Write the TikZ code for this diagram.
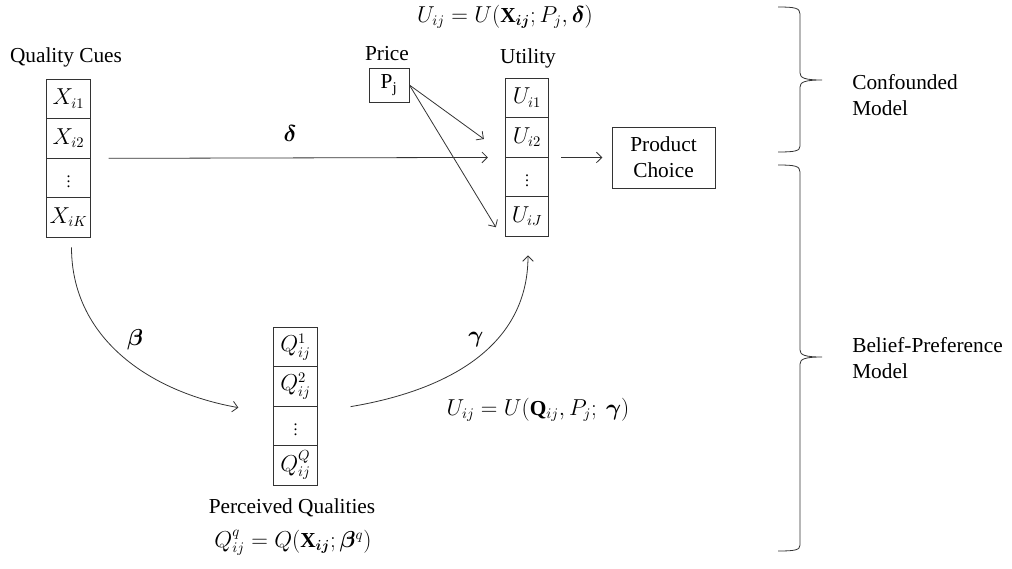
\documentclass[tikz,border=0pt]{standalone}
\usepackage{amsmath}
\usepackage{bm}
\usepackage{fontspec}
\setmainfont{Liberation Serif}
\usetikzlibrary{arrows.meta,calc}
\newcommand{\smalldots}{{\fontsize{12}{12}\selectfont$\vdots$}}
\begin{document}
\begin{tikzpicture}[x=0.75pt,y=-0.75pt,
  every node/.style={font=\fontsize{16}{19.5}\selectfont, text=black},
  ln/.style={line width=0.6pt, draw=black!80},
  cell/.style={ln, draw, minimum width=32.6pt, minimum height=29.6pt, inner sep=0pt},
  arr/.style={ln, -{Straight Barb[length=4pt,width=8pt]}},
  lbl/.style={inner sep=0pt}]
\useasboundingbox (0,0) rectangle (1012,568);

% Quality cues column
\node[lbl] (qc) at (66,57) {Quality Cues};
\node[cell] (x1) at (68.5,98.75) {$X_{i1}$};
\node[cell] (x2) at (68.5,138.25) {$X_{i2}$};
\node[cell] (x3) at (68.5,177.75) {\smalldots};
\node[cell] (x4) at (68.5,217.25) {$X_{iK}$};

% Price
\node[lbl] (pl) at (387,54) {Price};
\node[ln, draw, minimum width=30pt, minimum height=25.5pt, inner sep=0pt] (pj) at (389,85) {P\textsubscript{j}};

% Utility column
\node[lbl] (ul) at (528,58) {Utility};
\node[cell] (u1) at (527,97.75) {$U_{i1}$};
\node[cell] (u2) at (527,137.25) {$U_{i2}$};
\node[cell] (u3) at (527,176.75) {\smalldots};
\node[cell] (u4) at (527,216.25) {$U_{iJ}$};

% Product choice
\node[ln, draw, minimum width=77.25pt, minimum height=45.75pt, align=center, inner sep=0pt] (pc) at (663.5,157.5) {Product\\Choice};

% Perceived qualities column
\node[cell] (q1) at (295.5,346.75) {$Q^1_{ij}$};
\node[cell] (q2) at (295.5,386.25) {$Q^2_{ij}$};
\node[cell] (q3) at (295.5,425.75) {\smalldots};
\node[cell] (q4) at (295.5,465.25) {$Q^Q_{ij}$};
\node[lbl] (pq) at (292,508) {Perceived Qualities};

% equations
\node[lbl] (eqtop) at (505,17) {$U_{ij}=U(\mathbf{X}_{\bm{ij}};P_j,\bm{\delta})$};
\node[lbl] (eqmid) at (538,410) {$U_{ij}=U(\mathbf{Q}_{ij},P_j;\ \bm{\gamma})$};
\node[lbl] (eqq) at (293,543) {$Q^q_{ij}=Q(\mathbf{X}_{\bm{ij}};\bm{\beta}^q)$};

% parameter labels
\node[lbl] (dl) at (290,133) {$\bm{\delta}$};
\node[lbl] (bl) at (135,340) {$\bm{\beta}$};
\node[lbl] (gl) at (476,340) {$\bm{\gamma}$};

% connectors
\draw[arr, shorten <=13.5pt, shorten >=12.75pt] (x2.south east) -- (u2.south west);
\draw[arr, shorten <=9pt, shorten >=7pt] (u2.south east) -- (pc.west);
\draw[arr] (pj.east) -- ($(u2.west)+(-21,1.75)$);
\draw[arr] (pj.east) -- ($(u4.west)+(-9,11)$);
\draw[arr] ($(x4.south)+(3,10)$) .. controls ($(x4.south)+(3,100)$) and ($(q3.north west)+(-125,-14)$) .. ($(q3.north west)+(-35,2)$);
\draw[arr] ($(q3.north east)+(33,1)$) .. controls ($(q3.north east)+(123,-14)$) and ($(u4.south)+(1,114)$) .. ($(u4.south)+(1,19)$);

% braces
\draw[ln] (778,7) .. controls (795,7) and (800,8) .. (800,14) -- (800,73)
  .. controls (800,78) and (805,80) .. (822,80)
  .. controls (805,80) and (800,82) .. (800,87) -- (800,146)
  .. controls (800,151) and (795,152) .. (778,152);
\draw[ln] (778,165) .. controls (795,165) and (800,166) .. (800,172) -- (800,350)
  .. controls (800,355) and (805,357) .. (822,357)
  .. controls (805,357) and (800,359) .. (800,364) -- (800,545)
  .. controls (800,550) and (795,551) .. (778,551);

\node[lbl, anchor=west, align=left] (cm) at (852,95) {Confounded\\Model};
\node[lbl, anchor=west, align=left] (bp) at (852,358) {Belief-Preference\\Model};
\end{tikzpicture}
\end{document}
